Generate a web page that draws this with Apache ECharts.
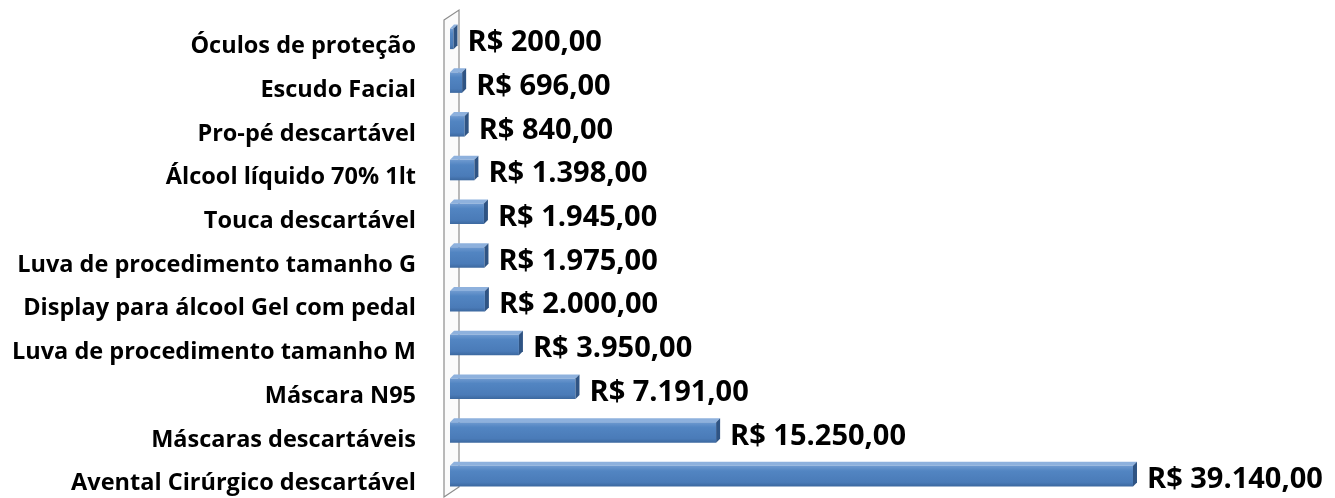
<!DOCTYPE html>
<html>
<head>
<meta charset="utf-8">
<script src="https://cdn.jsdelivr.net/npm/echarts@6/dist/echarts.min.js"></script>
<style>
  html, body { margin: 0; padding: 0; background: #fff; }
  #chart { width: 1335px; height: 498px; }
</style>
</head>
<body>
<div id="chart"></div>
<script>
// itens (de cima para baixo)
const categories = [
  "Óculos de proteção",
  "Escudo Facial",
  "Pro-pé descartável",
  "Álcool líquido 70% 1lt",
  "Touca descartável",
  "Luva de procedimento tamanho G",
  "Display para álcool Gel com pedal",
  "Luva de procedimento tamanho M",
  "Máscara N95",
  "Máscaras descartáveis",
  "Avental Cirúrgico descartável"
];
const values = [200, 696, 840, 1398, 1945, 1975, 2000, 3950, 7191, 15250, 39140];

const GRID_LEFT = 450, GRID_TOP = 17, GRID_BOTTOM = -1, GRID_RIGHT = 187;
const DEPTH = 4;
const FONT = "Open Sans";

function brl(v) {
  let [i, d] = v.toFixed(2).split(".");
  i = i.replace(/\B(?=(\d{3})+(?!\d))/g, ".");
  return "R$ " + i + "," + d;
}

let myChart = echarts.init(document.getElementById("chart"));

myChart.setOption({
  animation: false,
  grid: { left: GRID_LEFT, right: GRID_RIGHT, top: GRID_TOP, bottom: GRID_BOTTOM },
  xAxis: {
    type: "value",
    min: 0,
    max: 40000,
    show: false
  },
  yAxis: {
    type: "category",
    inverse: true,
    data: categories,
    axisLine: { show: false },
    axisTick: { show: false },
    axisLabel: {
      margin: 34,
      formatter: (v) => "{a|" + v + "}",
      rich: {
        a: {
          color: "#000",
          fontFamily: FONT,
          fontWeight: "bold",
          fontSize: 23.5,
          padding: [15, 0, 0, 0]
        }
      }
    }
  },
  // parede 3D da esquerda
  graphic: [
    {
      type: "polygon",
      z: -10,
      shape: {
        points: [[444, 20], [459, 10], [459, 487], [444, 497]]
      },
      style: { fill: "#fbfbfb", stroke: "#8c8c8c", lineWidth: 1.2 }
    }
  ],
  series: [
    {
      type: "custom",
      z: 5,
      data: values.map((v, i) => [v, i]),
      encode: { x: 0, y: 1 },
      renderItem: function (params, api) {
        const end = api.coord([api.value(0), api.value(1)]);
        const start = api.coord([0, api.value(1)]);
        const h = api.size([0, 1])[1] * 0.47;
        const x0 = start[0], x1 = end[0];
        const y0 = end[1] - h / 2, y1 = y0 + h;
        const d = DEPTH;
        return {
          type: "group",
          children: [
            {
              type: "polygon",
              shape: { points: [[x0, y0], [x0 + d, y0 - d], [x1 + d, y0 - d], [x1, y0]] },
              style: { fill: "#8eb1dd" }
            },
            {
              type: "rect",
              shape: { x: x0, y: y0, width: x1 - x0, height: h },
              style: {
                fill: new echarts.graphic.LinearGradient(0, 0, 0, 1, [
                  { offset: 0, color: "#6f9ad0" },
                  { offset: 0.25, color: "#5285c2" },
                  { offset: 0.8, color: "#4a7bb8" },
                  { offset: 1, color: "#3c689f" }
                ])
              }
            },
            {
              type: "polygon",
              shape: { points: [[x1, y0], [x1 + d, y0 - d], [x1 + d, y1 - d], [x1, y1]] },
              style: { fill: "#2f5484" }
            },
            {
              type: "text",
              x: x1 + d + 10,
              y: (y0 + y1) / 2 + 4,
              style: {
                text: brl(api.value(0)),
                fill: "#000",
                font: "bold 29px " + FONT,
                verticalAlign: "middle",
                align: "left"
              }
            }
          ]
        };
      }
    }
  ]
});
</script>
</body>
</html>
